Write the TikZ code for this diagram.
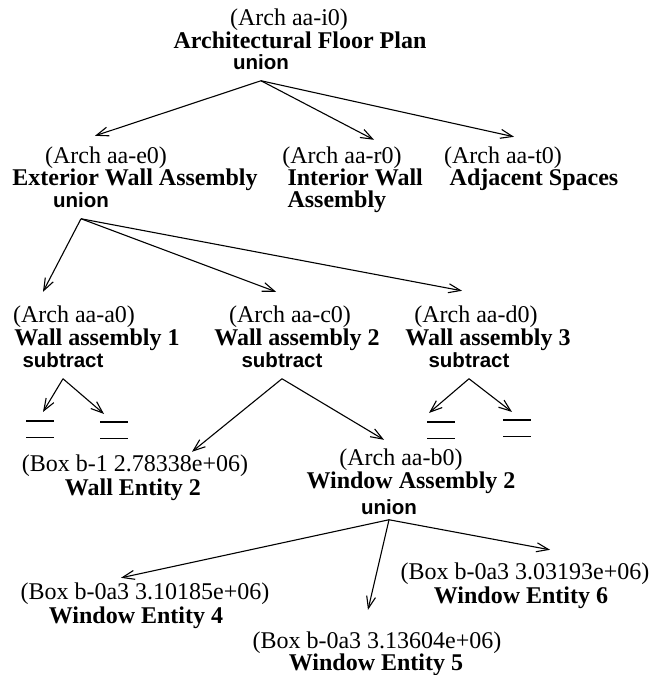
\documentclass[tikz,border=0pt]{standalone}
\usepackage{fontspec}
\setmainfont{Liberation Serif}
\newfontfamily\opfont{Liberation Sans}
\usetikzlibrary{arrows.meta}

\begin{document}
\begin{tikzpicture}[
    x=1pt, y=-1pt,
    >={Straight Barb[length=12pt,width=9pt]},
    line width=1.1pt,
    etiqueta/.style={
        anchor=base,
        inner xsep=0pt,
        inner ysep=4pt,
        font=\fontsize{24}{26}\selectfont
    },
    nombre/.style={
        anchor=base,
        inner sep=0pt,
        font=\fontsize{24}{22}\selectfont\bfseries
    },
    oper/.style={
        anchor=base,
        inner xsep=0pt,
        inner ysep=11pt,
        font=\fontsize{20.5}{22}\selectfont\opfont\bfseries
    },
    igual/.style={
        minimum width=26pt,
        minimum height=15pt,
        inner sep=0pt
    }
]
    \useasboundingbox (0,0) rectangle (652,675);

    % raiz
    \node[etiqueta] (plano-id) at (289,25) {(Arch aa-i0)};
    \node[nombre] (plano) at (300,48) {Architectural Floor Plan};
    \node[oper] (plano-op) at (261,69) {union};

    % segundo nivel
    \node[etiqueta] (exterior-id) at (106,163) {(Arch aa-e0)};
    \node[nombre] (exterior) at (135,185) {Exterior Wall Assembly};
    \node[oper] (exterior-op) at (81,207) {union};

    \node[etiqueta] (interior-id) at (342,163) {(Arch aa-r0)};
    \node[nombre, align=left, anchor=base west] (interior) at (287,207)
        {Interior Wall\\Assembly};

    \node[etiqueta] (adyacentes-id) at (503,163) {(Arch aa-t0)};
    \node[nombre] (adyacentes) at (534,185) {Adjacent Spaces};

    % muros
    \node[etiqueta] (muro1-id) at (74,322) {(Arch aa-a0)};
    \node[nombre] (muro1) at (97,345) {Wall assembly 1};
    \node[oper] (muro1-op) at (63,367) {subtract};

    \node[etiqueta] (muro2-id) at (290,322) {(Arch aa-c0)};
    \node[nombre] (muro2) at (297,345) {Wall assembly 2};
    \node[oper] (muro2-op) at (282,367) {subtract};

    \node[etiqueta] (muro3-id) at (476,322) {(Arch aa-d0)};
    \node[nombre] (muro3) at (488,345) {Wall assembly 3};
    \node[oper] (muro3-op) at (469,367) {subtract};

    \node[igual] (igual1) at (40,429) {};
    \node[igual] (igual2) at (114,430) {};
    \node[igual] (igual3) at (441,430) {};
    \node[igual] (igual4) at (517,428) {};
    \foreach \n in {igual1,igual2,igual3,igual4}
        \draw (\n.north west) -- (\n.north east)
              (\n.south west) -- (\n.south east);

    % entidades
    \node[etiqueta] (caja-id) at (135,471) {(Box b-1 2.78338e+06)};
    \node[nombre] (caja) at (133,495) {Wall Entity 2};

    \node[etiqueta] (ventana-id) at (401,465) {(Arch aa-b0)};
    \node[nombre] (ventana) at (411,488) {Window Assembly 2};
    \node[oper, inner ysep=5pt] (ventana-op) at (389,514) {union};

    \node[etiqueta] (ventana4-id) at (145,599) {(Box b-0a3 3.10185e+06)};
    \node[nombre] (ventana4) at (136,623) {Window Entity 4};

    \node[etiqueta] (ventana5-id) at (377,648) {(Box b-0a3 3.13604e+06)};
    \node[nombre] (ventana5) at (376,670) {Window Entity 5};

    \node[etiqueta] (ventana6-id) at (525,579) {(Box b-0a3 3.03193e+06)};
    \node[nombre] (ventana6) at (521,603) {Window Entity 6};

    % flechas
    \draw[->] (plano-op.south) -- ([xshift=-11pt,yshift=6pt]exterior-id.north);
    \draw[->] (plano-op.south) -- ([xshift=32pt,yshift=2pt]interior-id.north);
    \draw[->] (plano-op.south) -- ([xshift=11pt,yshift=5pt]adyacentes-id.north);

    \draw[->] (exterior-op.south) -- ([xshift=-31pt,yshift=9pt]muro1-id.north);
    \draw[->] (exterior-op.south) -- ([xshift=-14pt,yshift=9pt]muro2-id.north);
    \draw[->] (exterior-op.south) -- ([xshift=-14pt,yshift=10pt]muro3-id.north);

    \draw[->] (muro1-op.south) -- ([xshift=3pt,yshift=9pt]igual1.north);
    \draw[->] (muro1-op.south) -- ([xshift=-10pt,yshift=8pt]igual2.north);
    \draw[->] (muro2-op.south) -- ([xshift=57pt,yshift=-2pt]caja-id.north);
    \draw[->] (muro2-op.south) -- ([xshift=-17pt,yshift=4pt]ventana-id.north);
    \draw[->] (muro3-op.south) -- ([xshift=-12pt,yshift=9pt]igual3.north);
    \draw[->] (muro3-op.south) -- ([xshift=-5pt,yshift=8pt]igual4.north);

    \draw[->] (ventana-op.south) -- ([xshift=-24pt]ventana4-id.north);
    \draw[->] (ventana-op.south) -- ([xshift=-9pt,yshift=17pt]ventana5-id.north);
    \draw[->] (ventana-op.south) -- ([xshift=25pt,yshift=8pt]ventana6-id.north);
\end{tikzpicture}
\end{document}
